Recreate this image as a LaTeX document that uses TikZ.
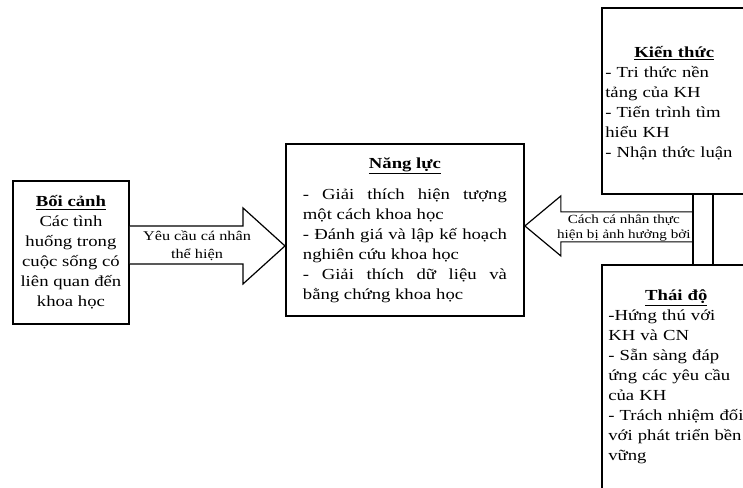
\documentclass[tikz,border=0pt]{standalone}
\usepackage{fontspec}
\setmainfont{Liberation Serif}[FakeStretch=1.22]
\usetikzlibrary{calc,positioning}
\setlength{\parindent}{0pt}
\tikzset{
  box/.style={draw,line width=1.4pt,rectangle,inner sep=0pt,anchor=north west},
  boxtext/.style={font=\fontsize{11.5}{15}\selectfont},
  blockarrow/.style={draw,line width=0.9pt,fill=white,line join=miter},
  arrowlabel/.style={align=center,inner sep=0pt},
  link/.style={line width=1.4pt},
}

\begin{document}
\begin{tikzpicture}[x=0.75pt,y=-0.75pt]
\useasboundingbox (0,0) rectangle (743,487);
\clip (0,0) rectangle (743,487);
% boxes
\node[box,boxtext,align=center,minimum width=87pt,minimum height=107.25pt] (boicanh) at (12,180)
  {\underline{\textbf{Bối cảnh}}\\Các tình\\huống trong\\cuộc sống có\\liên quan đến\\khoa học};
\node[box,boxtext,align=justify,text width=153pt,minimum width=178.5pt,minimum height=129pt] (nangluc) at (285,143)
  {{\centering\underline{\textbf{Năng lực}}\par}\vspace{8pt}
   - Giải thích hiện tượng\linebreak một cách khoa học\par
   - Đánh giá và lập kế hoạch\linebreak nghiên cứu khoa học\par
   - Giải thích dữ liệu và\linebreak bằng chứng khoa học};
\node[box,minimum width=150pt,minimum height=139.5pt] (kienthuc) at (601,7) {};
\node[box,minimum width=150pt,minimum height=200pt] (thaido) at (601,264) {};
\node[boxtext,anchor=base west,inner sep=0pt,text width=103.5pt,align=left] (kttext) at ($(kienthuc.north west)+(4,50)$)
  {{\centering\underline{\textbf{Kiến thức}}\par}
   - Tri thức nền\\tảng của KH\\- Tiến trình tìm\\hiểu KH\\- Nhận thức luận};
\node[boxtext,anchor=base west,inner sep=0pt,text width=102pt,align=left] (tdtext) at ($(thaido.north west)+(7,36)$)
  {{\centering\underline{\textbf{Thái độ}}\par}
   -Hứng thú với\\KH và CN\\- Sẵn sàng đáp\\ứng các yêu cầu\\của KH\\- Trách nhiệm đối\\với phát triển bền\\vững};
% block arrows
\coordinate (ltip) at ($(nangluc.west)+(0,16)$);
\coordinate (rtip) at ($(nangluc.east)+(0,-4)$);
\coordinate (ctop) at ($(kienthuc.south west)+(92,0)$);
\draw[blockarrow] ($(boicanh.east)+(0,-26.5)$) -| ($(ltip)+(-42,-38)$) -- (ltip)
  -- ($(ltip)+(-42,38)$) |- ($(boicanh.east)+(0,11.5)$);
\draw[blockarrow] ($(ctop)+(0,17)$) -| ($(rtip)+(36,-30)$) -- (rtip)
  -- ($(rtip)+(36,30)$) |- ($(ctop)+(0,47)$);
\node[arrowlabel,font=\fontsize{10}{13.5}\selectfont] (ylabel) at ($(ltip)+(-88,0)$) {Yêu cầu cá nhân\\thể hiện};
\node[arrowlabel,font=\fontsize{9.3}{11}\selectfont] (clabel) at ($(rtip)+(99,2)$) {Cách cá nhân thực\\hiện bị ảnh hưởng bởi};
% links between the right boxes
\draw[link] (ctop) -- ($(thaido.north west)+(92,0)$);
\draw[link] ($(kienthuc.south west)+(112,0)$) -- ($(thaido.north west)+(112,0)$);
\end{tikzpicture}
\end{document}
